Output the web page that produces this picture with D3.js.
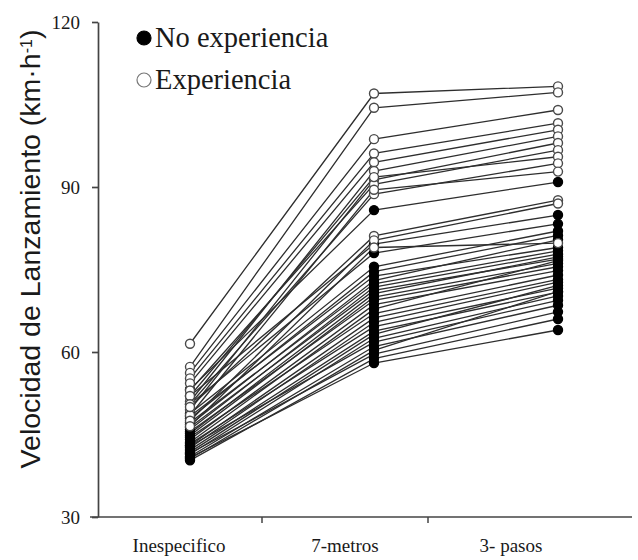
<!DOCTYPE html>
<html>
<head>
<meta charset="utf-8">
<script src="https://cdn.jsdelivr.net/npm/d3@7"></script>
<style>
  html, body { margin: 0; padding: 0; background: #fff; }
  svg { display: block; }
</style>
</head>
<body>
<svg id="chart" width="638" height="560"></svg>
<script>
// Throwing velocity per subject across the three throw types
const categories = ["Inespecifico", "7-metros", "3- pasos"];
const yTicks = [30, 60, 90, 120];

// Experienced players: [Inespecifico, 7-metros, 3- pasos]
const experiencia = [
  [61.5, 107.0, 108.3],
  [57.3, 104.4, 107.2],
  [56.2, 98.7, 104.0],
  [55.2, 96.1, 101.6],
  [54.3, 94.5, 100.4],
  [51.0, 92.9, 99.2],
  [49.5, 91.3, 98.0],
  [53.0, 90.5, 96.7],
  [52.0, 91.8, 95.5],
  [50.5, 88.7, 94.3],
  [48.5, 89.5, 92.8],
  [50.0, 81.1, 87.6],
  [47.5, 80.3, 87.0],
  [46.5, 79.0, 79.8]
];

// Players without experience
const noExperiencia = [
  [53.2, 85.8, 90.9],
  [52.0, 79.6, 84.9],
  [50.5, 78.0, 83.3],
  [48.8, 75.5, 82.0],
  [47.9, 74.6, 81.2],
  [48.3, 73.8, 79.0],
  [46.8, 73.0, 80.4],
  [47.2, 72.4, 78.4],
  [45.9, 71.8, 77.8],
  [46.3, 71.2, 76.9],
  [45.2, 70.6, 77.3],
  [44.8, 70.0, 76.1],
  [45.5, 69.4, 75.5],
  [44.1, 68.6, 74.8],
  [43.6, 67.8, 76.6],
  [44.5, 67.0, 74.0],
  [43.0, 66.2, 73.2],
  [42.6, 65.4, 72.7],
  [43.3, 64.6, 71.6],
  [42.2, 63.8, 70.9],
  [41.8, 63.2, 72.1],
  [41.4, 62.5, 70.2],
  [42.9, 61.8, 69.4],
  [41.0, 61.0, 68.5],
  [40.6, 60.3, 71.0],
  [41.6, 59.6, 67.3],
  [40.3, 58.8, 66.0],
  [40.8, 58.0, 64.0]
];

const legendLabels = ["No experiencia", "Experiencia"];

const svg = d3.select("#chart");
const serif = "'Liberation Serif', 'Times New Roman', serif";

const y = d3.scaleLinear().domain([30, 120]).range([517, 22]);
// Category bands for the axis, points placed on their own positions
const xBand = d3.scaleBand().domain(categories).range([96, 594]).paddingInner(0).paddingOuter(0);
const xPt = d3.scalePoint().domain(categories).range([190, 558]);

// Y axis
const yAxis = svg.append("g")
  .attr("transform", "translate(98,0)")
  .call(d3.axisLeft(y).tickValues(yTicks).tickSize(6).tickSizeOuter(0).tickFormat(d3.format("d")));
yAxis.select(".domain").attr("stroke", "#444").attr("stroke-width", 1.7);
yAxis.selectAll(".tick line").attr("stroke", "#444").attr("stroke-width", 1.7);
yAxis.selectAll(".tick text")
  .attr("font-family", serif).attr("font-size", 19).attr("fill", "#1a1a1a").attr("x", -18);

// X axis: baseline with ticks at category boundaries
const xg = svg.append("g").attr("transform", `translate(0,${y(30)})`);
xg.append("line").attr("x1", 90).attr("x2", 632).attr("stroke", "#444").attr("stroke-width", 1.7);
const bounds = categories.slice(1).map(c => xBand(c));
xg.selectAll("line.tk").data(bounds).join("line")
  .attr("class", "tk")
  .attr("x1", d => d).attr("x2", d => d).attr("y1", 0).attr("y2", 6)
  .attr("stroke", "#444").attr("stroke-width", 1.5);
xg.selectAll("text").data(categories).join("text")
  .attr("x", d => xBand(d) + xBand.bandwidth() / 2)
  .attr("y", 35)
  .attr("text-anchor", "middle")
  .attr("font-family", serif).attr("font-size", 19).attr("fill", "#1a1a1a")
  .text(d => d);

// Y axis title
const title = svg.append("text")
  .attr("transform", "translate(40,249) rotate(-90)")
  .attr("text-anchor", "middle")
  .attr("font-family", "'Liberation Sans', Arial, sans-serif")
  .attr("font-size", 28.5).attr("fill", "#1a1a1a");
title.append("tspan").text("Velocidad de Lanzamiento (km·h");
title.append("tspan").attr("baseline-shift", "super").attr("font-size", 16).text("-1");
title.append("tspan").text(")");

const line = d3.line().x((d, i) => xPt(categories[i])).y(d => y(d));

const groups = [
  { rows: noExperiencia, fill: "#000" },
  { rows: experiencia, fill: "#fff" }
];

// Connecting lines first, then the markers on top
groups.forEach(g => {
  svg.append("g").selectAll("path").data(g.rows).join("path")
    .attr("d", line)
    .attr("fill", "none")
    .attr("stroke", "#2e2e2e")
    .attr("stroke-width", 1.3);
});
groups.forEach(g => {
  const pts = g.rows.flatMap(r => r.map((v, i) => ({ c: categories[i], v })));
  svg.append("g").selectAll("circle").data(pts).join("circle")
    .attr("cx", d => xPt(d.c))
    .attr("cy", d => y(d.v))
    .attr("r", 4.5)
    .attr("fill", g.fill)
    .attr("stroke", g.fill === "#000" ? "#000" : "#4a4a4a")
    .attr("stroke-width", 1.4);
});

// Legend
const legend = svg.append("g");
legendLabels.forEach((lab, i) => {
  const cy = 38 + i * 42;
  legend.append("circle").attr("cx", 144).attr("cy", cy).attr("r", 7)
    .attr("fill", i === 0 ? "#000" : "#fff")
    .attr("stroke", i === 0 ? "#000" : "#777").attr("stroke-width", 1.2);
  legend.append("text").attr("x", 155).attr("y", cy + 9)
    .attr("font-family", serif).attr("font-size", 28.5).attr("fill", "#1a1a1a")
    .text(lab);
});
</script>
</body>
</html>
